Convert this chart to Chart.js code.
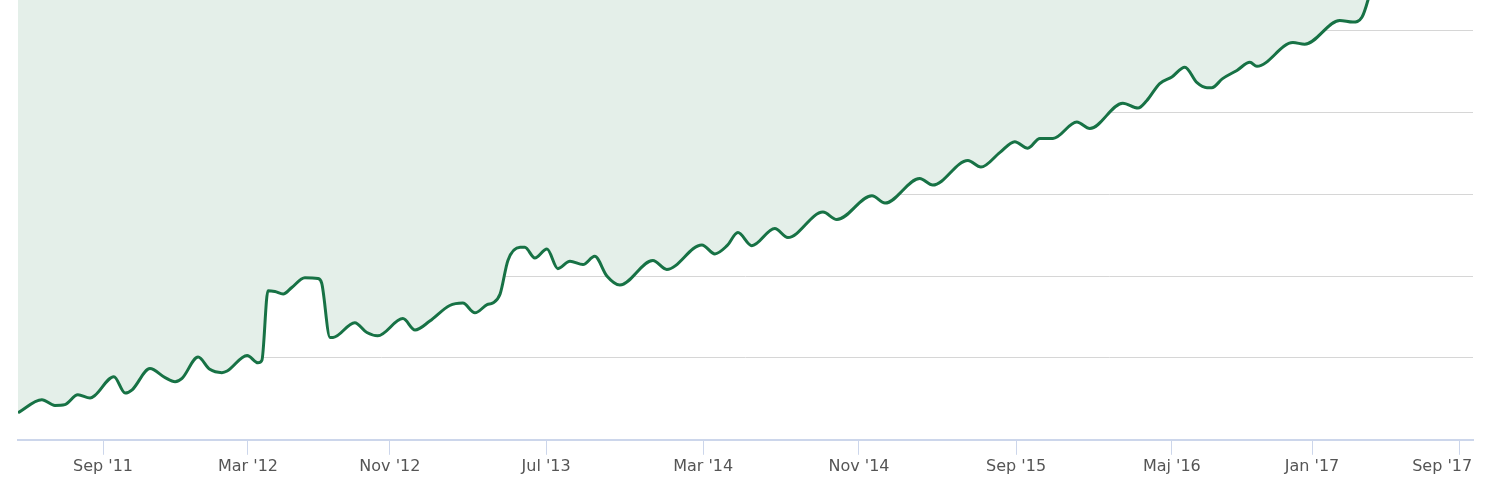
<!DOCTYPE html>
<html>
<head>
<meta charset="utf-8">
<script src="https://cdn.jsdelivr.net/npm/chart.js@4"></script>
<style>
  html, body { margin: 0; padding: 0; background: #ffffff; }
  #wrap { width: 1500px; height: 500px; position: relative; }
</style>
</head>
<body>
<div id="wrap"><canvas id="c"></canvas></div>
<script>
// x position of each sample (weeks from the first sample)
const weeks = [
  0, 5.5, 8.5, 10.8, 13.8, 16.6, 17.7, 22.1, 24.7, 26.3, 30.4, 33.9, 36.2, 37.8, 41.5, 44.2, 47.0, 48.2,
  52.8, 55.3, 56.2, 57.6, 59.2, 61.1, 63.1, 66.1, 69.1, 70.0, 71.9, 72.6, 77.6, 80.4, 82.9, 88.7, 91.5,
  94.9, 99.5, 102.5, 105.3, 108.1, 109.4, 111.1, 112.9, 115.7, 116.8, 119.1, 121.9, 124.4, 127.2, 130.2,
  132.9, 135.7, 138.7, 146.3, 149.5, 157.6, 160.6, 163.4, 165.9, 169.1, 174.4, 177.4, 185.5, 188.7,
  196.8, 199.8, 207.8, 210.8, 218.9, 221.9, 226.3, 229.7, 232.7, 235.5, 238.5, 244.0, 247.0, 254.6,
  258.1, 260.1, 263.1, 265.9, 268.9, 271.7, 274.0, 275.1, 277.6, 280.9, 283.9, 285.5, 293.8, 296.5,
  304.6, 307.6, 309.7, 311.1, 312.7
];
// series values
const values = [
  0.33, 0.49, 0.42, 0.43, 0.55, 0.51, 0.54, 0.77, 0.57, 0.61, 0.87, 0.76, 0.71, 0.75, 1.01, 0.86, 0.82, 0.84,
  1.03, 0.94, 0.97, 1.82, 1.81, 1.78, 1.86, 1.98, 1.97, 1.91, 1.25, 1.25, 1.43, 1.31, 1.27, 1.48, 1.34,
  1.45, 1.64, 1.67, 1.55, 1.65, 1.67, 1.78, 2.19, 2.35, 2.35, 2.22, 2.33, 2.09, 2.18, 2.14,
  2.24, 2.00, 1.89, 2.19, 2.08, 2.38, 2.27, 2.37, 2.53, 2.37, 2.58, 2.47, 2.78, 2.69,
  2.98, 2.89, 3.19, 3.11, 3.41, 3.33, 3.51, 3.64, 3.56, 3.68, 3.68, 3.88, 3.80, 4.11,
  4.05, 4.14, 4.35, 4.43, 4.55, 4.36, 4.30, 4.30, 4.41, 4.51, 4.61, 4.56, 4.85, 4.83,
  5.12, 5.10, 5.16, 5.37, 5.73
];
// x-axis ticks
const tickPos = [19.6, 53.0, 85.7, 121.7, 157.9, 193.8, 230.0, 265.9, 298.2, 332.3];
const tickLabels = ["Sep '11", "Mar '12", "Nov '12", "Jul '13", "Mar '14", "Nov '14", "Sep '15", "Maj '16", "Jan '17", "Sep '17"];
const xMin = 0, xMax = 335.3;
const yMin = 0, yMax = 5.37;

const points = weeks.map((w, i) => ({ x: w, y: values[i] }));

new Chart(document.getElementById('c'), {
  type: 'line',
  data: {
    datasets: [{
      data: points,
      borderColor: '#177245',
      backgroundColor: '#e4efe9',
      borderWidth: 3,
      fill: 'end',
      pointRadius: 0,
      pointHoverRadius: 0,
      cubicInterpolationMode: 'monotone'
    }]
  },
  options: {
    responsive: true,
    maintainAspectRatio: false,
    animation: false,
    layout: { padding: { left: 18, right: 27, top: 0, bottom: 22 } },
    plugins: { legend: { display: false }, tooltip: { enabled: false } },
    scales: {
      x: {
        type: 'linear',
        min: xMin,
        max: xMax,
        afterBuildTicks: (axis) => { axis.ticks = tickPos.map(v => ({ value: v })); },
        afterFit: (axis) => { axis.paddingRight = 0; axis.paddingLeft = 0; },
        ticks: {
          autoSkip: false,
          maxRotation: 0,
          minRotation: 0,
          padding: 2,
          color: '#555555',
          font: { family: 'DejaVu Sans', size: 16 },
          // the last label is kept inside the plot edge (trailing spaces shift the centred text left)
          callback: (v, i) => i === tickLabels.length - 1 ? tickLabels[i] + '\u00a0\u00a0\u00a0\u00a0\u00a0\u00a0\u00a0' : tickLabels[i]
        },
        grid: {
          drawOnChartArea: false,
          drawTicks: true,
          tickLength: 15,
          tickColor: '#ccd6eb',
          tickWidth: 1
        },
        border: { display: true, color: '#ccd6eb', width: 2 }
      },
      y: {
        min: yMin,
        max: yMax,
        ticks: { display: false, stepSize: 1 },
        grid: {
          color: (ctx) => (ctx.tick && Number.isInteger(ctx.tick.value) && ctx.tick.value > 0) ? '#d6d6d6' : 'rgba(0,0,0,0)',
          lineWidth: 1,
          drawTicks: false
        },
        border: { display: false }
      }
    }
  }
});
</script>
</body>
</html>
